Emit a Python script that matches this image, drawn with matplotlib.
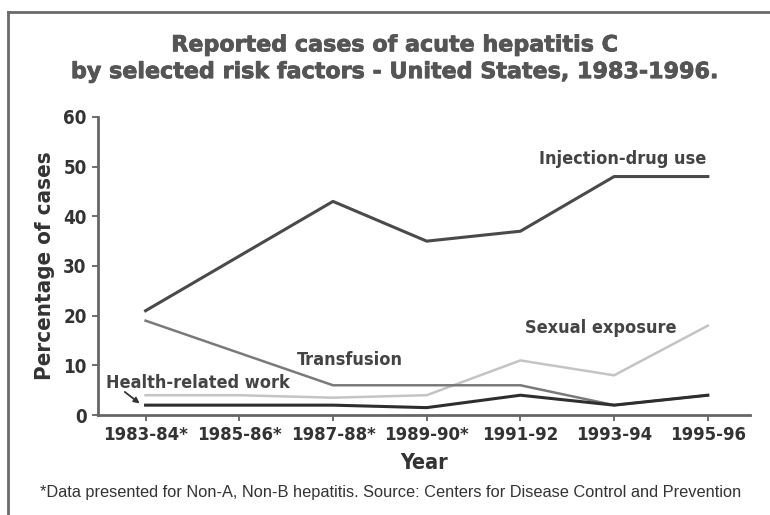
import matplotlib
matplotlib.use("Agg")
import matplotlib.pyplot as plt
import matplotlib.patheffects as pe
from matplotlib.lines import Line2D

years = ["1983-84*", "1985-86*", "1987-88*", "1989-90*", "1991-92", "1993-94", "1995-96"]
injection_drug_use = [21, 32, 43, 35, 37, 48, 48]
transfusion = [19, 12.5, 6, 6, 6, 2, 4]
sexual_exposure = [4, 4, 3.5, 4, 11, 8, 18]
health_related_work = [2, 2, 2, 1.5, 4, 2, 4]

narrow = ["DejaVu Sans"]
st = "condensed"

fig = plt.figure(figsize=(7.7, 5.15), dpi=100)
ax = fig.add_axes([0.127, 0.194, 0.847, 0.579])

x = list(range(len(years)))
ax.plot(x, sexual_exposure, color="#c4c4c4", lw=1.8)
ax.plot(x, transfusion, color="#7a7a7a", lw=1.8)
ax.plot(x, health_related_work, color="#2e2e2e", lw=2.2)
ax.plot(x, injection_drug_use, color="#4a4a4a", lw=2.2)

ax.set_xlim(-0.51, 6.45)
ax.set_ylim(0, 60)
ax.set_xticks(x)
ax.set_xticklabels(years, fontfamily=narrow, fontstretch=st, fontweight="bold", fontsize=13.3, color="#333333")
ax.set_yticks(range(0, 61, 10))
ax.set_yticklabels([str(v) for v in range(0, 61, 10)], fontfamily=narrow, fontstretch=st, fontweight="bold",
                   fontsize=13.5, color="#333333")
ax.tick_params(axis="both", length=4, width=1.2, color="#555555", pad=4)
for s in ["top", "right"]:
    ax.spines[s].set_visible(False)
for s in ["left", "bottom"]:
    ax.spines[s].set_color("#666666")
    ax.spines[s].set_linewidth(2)

ax.set_xlabel("Year", fontfamily=narrow, fontstretch=st, fontweight="bold", fontsize=15.5, color="#333333", labelpad=6)
ax.set_ylabel("Percentage of cases", fontfamily=narrow, fontstretch=st, fontweight="bold", fontsize=16,
              color="#333333", labelpad=6)

lab = dict(fontfamily=narrow, fontstretch=st, fontweight="bold", fontsize=13, color="#444444")
ax.text(4.2, 51.5, "Injection-drug use", ha="left", va="center", **lab)
ax.text(4.86, 17.6, "Sexual exposure", ha="center", va="center", **lab)
ax.text(2.18, 11.1, "Transfusion", ha="center", va="center", **lab)
ax.text(-0.42, 6.5, "Health-related work", ha="left", va="center", **lab)
ax.annotate("", xy=(-0.04, 2.0), xytext=(-0.245, 5.0),
            arrowprops=dict(arrowstyle="-|>", color="#333333", lw=1.3, mutation_scale=8))

tcol = "#555555"
title_font = dict(fontfamily="DejaVu Sans", fontweight="bold", fontsize=16, color=tcol,
                  path_effects=[pe.withStroke(linewidth=0.6, foreground=tcol)])
fig.text(0.513, 0.912, "Reported cases of acute hepatitis C", ha="center", va="center", **title_font)
fig.text(0.513, 0.86, "by selected risk factors - United States, 1983-1996.", ha="center", va="center", **title_font)

fig.text(0.052, 0.043, "*Data presented for Non-A, Non-B hepatitis. Source: Centers for Disease Control and Prevention",
         ha="left", va="center", fontfamily=["Liberation Sans", "DejaVu Sans"], fontsize=11.8, color="#333333")

fig.add_artist(Line2D([0.01, 0.01], [0.0, 0.977], transform=fig.transFigure, color="#6a6a6a", lw=2))
fig.add_artist(Line2D([0.01, 1.0], [0.977, 0.977], transform=fig.transFigure, color="#6a6a6a", lw=2))

fig.savefig("out.png", dpi=100)
